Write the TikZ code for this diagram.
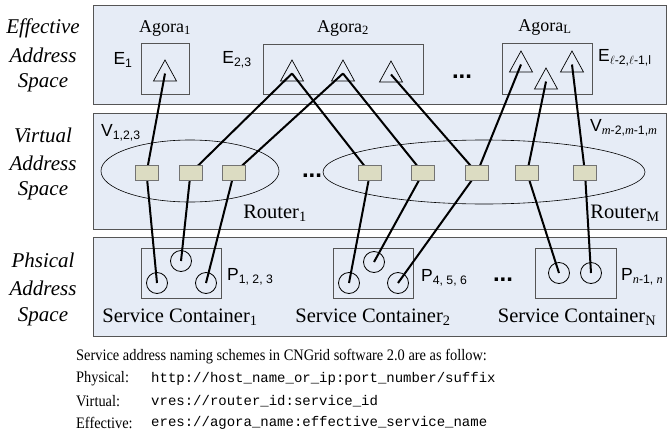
\documentclass[tikz,border=0pt]{standalone}
\usepackage{fontspec}
\setmainfont{Liberation Serif}
\setsansfont{Liberation Sans}
\setmonofont{Liberation Mono}
\definecolor{panelblue}{HTML}{E6ECF6}
\definecolor{rtfill}{HTML}{DCDCC2}
\definecolor{edgegray}{HTML}{555555}
\newcommand\agtri[3]{\draw[trist] (#1,#2) -- ++(11.5,21) -- ++(-23,0) -- cycle; \coordinate (#3) at (#1,#2+13.5);}
\newcommand\narrow[1]{\scalebox{0.9}[1]{#1}}
\begin{document}
\begin{tikzpicture}[x=1pt,y=-1pt,
  panel/.style={draw=edgegray, line width=1.1pt, fill=panelblue},
  grpbox/.style={draw=edgegray, line width=0.8pt},
  trist/.style={draw=black, line width=0.7pt},
  conn/.style={line width=2pt, black},
  rt/.style={draw=black!55, fill=rtfill, minimum width=23pt, minimum height=15pt, inner sep=0pt, line width=0.6pt},
  sc/.style={circle, draw=black, line width=0.8pt, minimum size=21pt, inner sep=0pt},
  ell/.style={draw=black, line width=0.6pt},
  lbl/.style={font=\fontsize{21}{23}\selectfont\itshape, inner sep=0pt},
  sfl/.style={font=\sffamily\fontsize{17.5}{19}\selectfont, inner sep=0pt},
  srl/.style={font=\fontsize{18}{20}\selectfont, inner sep=0pt},
  bigl/.style={font=\fontsize{20.5}{22}\selectfont, inner sep=0pt},
  dots/.style={font=\sffamily\bfseries\fontsize{24}{24}\selectfont, inner sep=0pt},
  btxt/.style={font=\fontsize{16}{18}\selectfont, inner sep=0pt, anchor=west},
  mtxt/.style={font=\ttfamily\fontsize{14}{16}\selectfont, inner sep=0pt, anchor=west}
]
\useasboundingbox (0,0) rectangle (670,434);
% panels
\node[panel, anchor=north west, minimum width=573pt, minimum height=99pt, inner sep=0pt] (pe) at (93,5) {};
\node[panel, anchor=north west, minimum width=573pt, minimum height=116pt, inner sep=0pt] (pv) at (93,113) {};
\node[panel, anchor=north west, minimum width=573pt, minimum height=99pt, inner sep=0pt] (pp) at (93,237) {};
% left labels
\node[lbl] (le1) at (43,28) {Effective};
\node[lbl] (le2) at (43,55) {Address};
\node[lbl] (le3) at (43,83) {Space};
\node[lbl] (lv1) at (43,135) {Virtual};
\node[lbl] (lv2) at (43,163) {Address};
\node[lbl] (lv3) at (43,191) {Space};
\node[lbl] (lp1) at (43,260) {Phsical};
\node[lbl] (lp2) at (43,288) {Address};
\node[lbl] (lp3) at (43,317) {Space};
% effective boxes
\draw[grpbox] (141,43) rectangle (189,94);
\draw[grpbox] (263,44) rectangle (423,94);
\draw[grpbox] (502,43) rectangle (592,94);
% ellipses
\draw[ell] (190,171) ellipse [x radius=89, y radius=31];
\draw[ell] (484,172) ellipse [x radius=161, y radius=32];
% container boxes
\draw[grpbox] (141,248) rectangle (221,298);
\draw[grpbox] (333,248) rectangle (413,298);
\draw[grpbox] (535,248) rectangle (616,298);
% triangles
\agtri{165}{60}{tE}
\agtri{292}{60}{tA}
\agtri{343}{60}{tB}
\agtri{391}{61}{tC}
\agtri{521}{51}{tL}
\agtri{546}{68}{tM}
\agtri{572}{51}{tN}
% router ports and circles
\coordinate (r1) at (146.5,173);
\coordinate (r2) at (190.5,173);
\coordinate (r3) at (234,173);
\coordinate (r4) at (370,173);
\coordinate (r5) at (423,173);
\coordinate (r6) at (477,173);
\coordinate (r7) at (527,173);
\coordinate (r8) at (585,173);
\node[sc] (c1) at (157,283) {};
\node[sc] (c2) at (181,261) {};
\node[sc] (c3) at (206,283) {};
\node[sc] (c4) at (349,283) {};
\node[sc] (c5) at (374,262) {};
\node[sc] (c6) at (398,283) {};
\node[sc] (c7) at (559,273) {};
\node[sc] (c8) at (591,273) {};
% connectors
\draw[conn] (tE) -- (r1);
\draw[conn] (tA) -- (r2);
\draw[conn] (tA) -- (r4);
\draw[conn] (tB) -- (r3);
\draw[conn] (tB) -- (r5);
\draw[conn] (tC) -- (r6);
\draw[conn] (tL) -- (r6);
\draw[conn] (tM) -- (r7);
\draw[conn] (tN) -- (r8);
\draw[conn] (r1) -- (c1.center);
\draw[conn] (r2) -- (c2.center);
\draw[conn] (r3) -- (c3.center);
\draw[conn] (r4) -- (c4.center);
\draw[conn] (r5) -- (c5.center);
\draw[conn] (r6) -- (c6.center);
\draw[conn] (r7) -- (c7.center);
\draw[conn] (r8) -- (c8.center);
% port boxes on top
\foreach \p in {r1,r2,r3,r4,r5,r6,r7,r8} { \node[rt] (\p b) at (\p) {}; }
% labels
\node[srl] (ag1) at (165,28) {Agora\textsubscript{1}};
\node[srl] (ag2) at (343,28) {Agora\textsubscript{2}};
\node[srl] (agL) at (545,27) {Agora\textsubscript{L}};
\node[sfl] (e1) at (123,60) {E\textsubscript{1}};
\node[sfl] (e23) at (237,60) {E\textsubscript{2,3}};
\node[sfl, anchor=west] (eL) at (598,58) {E\textsubscript{$\ell$-2,$\ell$-1,l}};
\node[sfl, anchor=west] (v1) at (101,133) {V\textsubscript{1,2,3}};
\node[sfl, anchor=west] (vm) at (590,128) {V\textsubscript{\rmfamily\itshape m\upshape\sffamily-2,\rmfamily\itshape m\upshape\sffamily-1,\rmfamily\itshape m}};
\node[bigl] (rt1) at (275,213) {Router\textsubscript{1}};
\node[bigl] (rtM) at (625,213) {Router\textsubscript{M}};
\node[sfl, anchor=west] (p1) at (227,277) {P\textsubscript{1, 2, 3}};
\node[sfl, anchor=west] (p2) at (421,278) {P\textsubscript{4, 5, 6}};
\node[sfl, anchor=west] (pn) at (621,277) {P\textsubscript{\rmfamily\itshape n\upshape\sffamily-1, \rmfamily\itshape n}};
\node[bigl] (sc1) at (180,317) {Service Container\textsubscript{1}};
\node[bigl] (sc2) at (373,317) {Service Container\textsubscript{2}};
\node[bigl] (scN) at (577,317) {Service Container\textsubscript{N}};
\node[dots] (d1) at (462,77) {...};
\node[dots] (d2) at (312,176) {...};
\node[dots] (d3) at (503,280) {...};
% bottom text
\node[btxt] (bt0) at (76,357) {\narrow{Service address naming schemes in CNGrid software 2.0 are as follow:}};
\node[btxt] (bt1) at (76,379) {\narrow{Physical:}};
\node[btxt] (bt2) at (76,401) {\narrow{Virtual:}};
\node[btxt] (bt3) at (76,423) {\narrow{Effective:}};
\node[mtxt] (m1) at (151,379) {http://host\_name\_or\_ip:port\_number/suffix};
\node[mtxt] (m2) at (151,401) {vres://router\_id:service\_id};
\node[mtxt] (m3) at (151,423) {eres://agora\_name:effective\_service\_name};
\end{tikzpicture}
\end{document}
